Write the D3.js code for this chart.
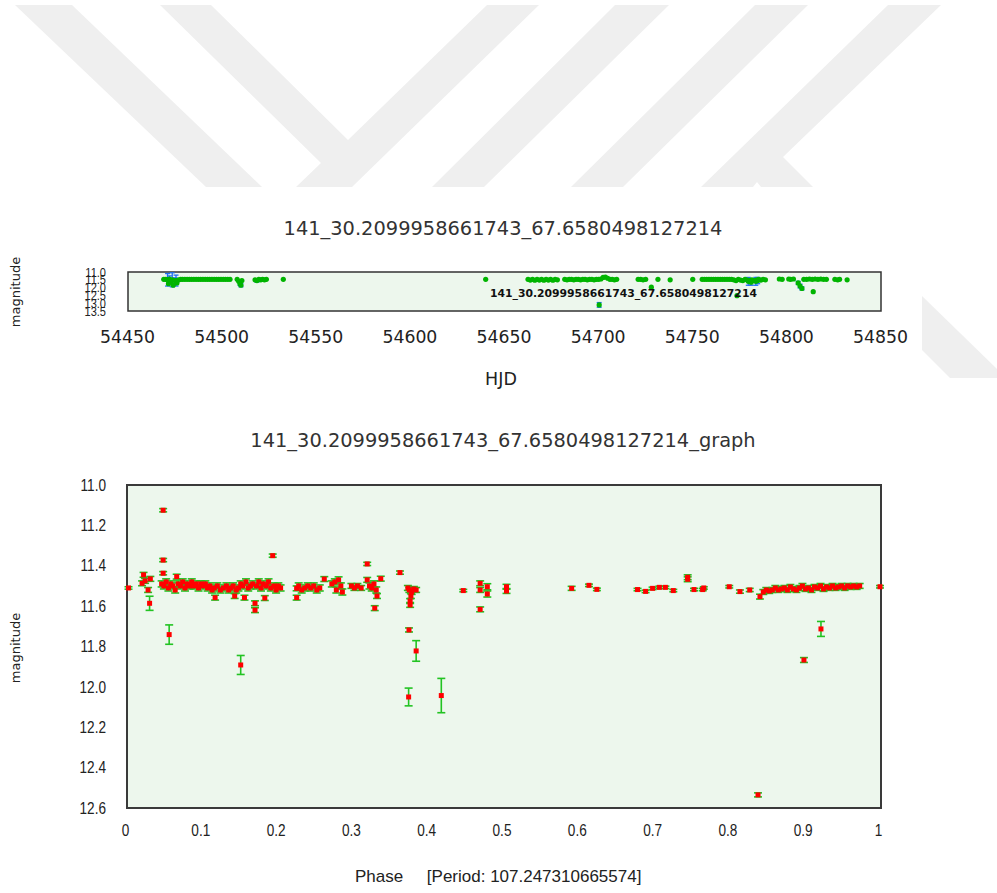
<!DOCTYPE html>
<html>
<head>
<meta charset="utf-8">
<script src="https://cdn.jsdelivr.net/npm/d3@7/dist/d3.min.js"></script>
<style>
  html, body { margin: 0; padding: 0; background: #fff; }
  svg { display: block; }
  .narrow { font-family: "Liberation Sans", Arial, sans-serif; }
  .dv { font-family: "DejaVu Sans", sans-serif; }
  .lib { font-family: "Liberation Sans", Arial, sans-serif; }
</style>
</head>
<body>
<svg id="chart" width="997" height="893"></svg>
<script>
// ---- light curve vs. time (HJD) ----
const hjd = [
  54469, 54470, 54471, 54471.5, 54472, 54473, 54473.5, 54474, 54475, 54475.5, 54476, 54477, 54478,
  54479, 54480.2, 54481.4, 54482.6, 54483.8, 54485, 54486.2, 54487.4, 54488.6, 54489.8, 54491,
  54492.2, 54493.4, 54494.6, 54495.8, 54497, 54498.2, 54499.4, 54500.6, 54501.8, 54503, 54504.2,
  54508, 54508.8, 54509.5, 54510, 54510.5,
  54517.5, 54518.5, 54519.5, 54520.5, 54521.5, 54522.5, 54523.5, 54532.5,
  54640,
  54662.5, 54663.7, 54664.9, 54666.1, 54667.3, 54668.5, 54669.7, 54670.9, 54672.1, 54673.3,
  54674.5, 54675.7, 54676.9, 54678.1,
  54682, 54683.2, 54684.4, 54685.6, 54686.8, 54688, 54689.2, 54690.4, 54691.6, 54692.8, 54694,
  54695.2, 54696.4, 54697.6, 54698.8, 54700, 54701.2, 54702.4, 54703.6, 54704.8, 54706, 54707.2,
  54708.4, 54709.6,
  54700.3,
  54721, 54722.3, 54723.6, 54725, 54728, 54731.5, 54738, 54750,
  54755, 54756.2, 54757.4, 54758.6, 54759.8, 54761, 54762.2, 54763.4, 54764.6, 54765.8, 54767,
  54768.2, 54769.4, 54770.6, 54771.8, 54773, 54774.2, 54775.4, 54776.6, 54777.8, 54779, 54780.2,
  54781.4, 54782.6, 54783.8, 54785, 54786.2, 54787.4, 54788.6,
  54779.5, 54781, 54783.5, 54784.5, 54773.5,
  54796, 54797.5, 54801, 54802, 54803.5, 54806, 54807, 54808, 54809, 54810.5, 54812, 54813.5,
  54815, 54816.5, 54818, 54819.5, 54821, 54814, 54825.5, 54827, 54828, 54832
];
const hjdMag = [
  11.47, 11.47, 11.50, 11.75, 11.45, 11.60, 11.50, 11.85, 11.55, 11.55, 11.70, 11.50, 11.47,
  11.47, 11.47, 11.47, 11.47, 11.47, 11.47, 11.47, 11.47, 11.47, 11.47, 11.47,
  11.47, 11.47, 11.47, 11.47, 11.47, 11.47, 11.47, 11.47, 11.47, 11.47, 11.47,
  11.47, 11.60, 11.75, 11.85, 11.55,
  11.50, 11.55, 11.47, 11.50, 11.47, 11.50, 11.47, 11.47,
  11.47,
  11.47, 11.52, 11.47, 11.53, 11.47, 11.52, 11.47, 11.53, 11.47, 11.52,
  11.47, 11.53, 11.47, 11.50,
  11.47, 11.50, 11.47, 11.47, 11.50, 11.47, 11.47, 11.50, 11.47, 11.47, 11.50,
  11.47, 11.47, 11.50, 11.47, 11.47, 11.45, 11.35, 11.32, 11.40, 11.47, 11.47,
  11.50, 11.47,
  13.11,
  11.47, 11.47, 11.50, 11.47, 11.97, 11.47, 11.50, 11.47,
  11.47, 11.47, 11.47, 11.47, 11.47, 11.47, 11.47, 11.47, 11.47, 11.47, 11.47,
  11.47, 11.47, 11.47, 11.50, 11.55, 11.47, 11.52, 11.55, 11.47, 11.52, 11.55,
  11.50, 11.55, 11.52, 11.47, 11.52, 11.47, 11.50,
  11.60, 11.65, 11.60, 11.55, 12.52,
  11.45, 11.47, 11.45, 11.47, 11.45, 11.70, 11.90, 12.05, 11.47, 11.47, 11.45, 11.47,
  11.45, 11.47, 11.45, 11.47, 11.47, 12.26, 11.47, 11.50, 11.47, 11.50
];
const hjdErr = [
  0, 0, 0.40, 0, 0.20, 0.15, 0.45, 0, 0.18, 0.35, 0, 0, 0,
  0, 0, 0, 0, 0, 0, 0, 0, 0, 0, 0,
  0, 0, 0, 0, 0, 0, 0, 0, 0, 0, 0,
  0, 0, 0.10, 0.10, 0,
  0, 0.10, 0, 0, 0, 0, 0, 0,
  0,
  0, 0, 0, 0, 0, 0, 0, 0, 0, 0,
  0, 0, 0, 0,
  0, 0, 0, 0, 0, 0, 0, 0, 0, 0, 0,
  0, 0, 0, 0, 0, 0, 0, 0, 0, 0, 0,
  0, 0,
  0.15,
  0, 0, 0, 0, 0, 0, 0, 0,
  0, 0, 0, 0, 0, 0, 0, 0, 0, 0, 0,
  0, 0, 0, 0, 0, 0, 0, 0, 0, 0, 0,
  0, 0, 0, 0, 0, 0, 0,
  0.25, 0.20, 0.25, 0.20, 0,
  0, 0, 0, 0, 0, 0.10, 0.12, 0.10, 0, 0, 0, 0,
  0, 0, 0, 0, 0, 0, 0, 0, 0, 0
];
const hjdTicks = [54450, 54500, 54550, 54600, 54650, 54700, 54750, 54800, 54850];
const hjdMagTicks = [11.0, 11.5, 12.0, 12.5, 13.0, 13.5];

// ---- folded light curve (phase) ----
const phase = [
  0.002, 0.020, 0.022, 0.024, 0.028, 0.031, 0.030, 0.048, 0.048, 0.048, 0.056, 0.066,
  0.046, 0.049, 0.052, 0.055, 0.058, 0.061, 0.064, 0.068, 0.071, 0.074, 0.077, 0.080,
  0.083, 0.086, 0.089, 0.092, 0.095, 0.098, 0.101, 0.104, 0.107, 0.110, 0.113, 0.117,
  0.116, 0.120, 0.124, 0.128, 0.132, 0.135, 0.138, 0.141, 0.143, 0.145, 0.148, 0.151,
  0.154, 0.156, 0.158, 0.161, 0.164, 0.167, 0.170, 0.170, 0.172, 0.175, 0.178, 0.181,
  0.183, 0.185, 0.188, 0.191, 0.1935, 0.195, 0.198, 0.201, 0.204, 0.151,
  0.2253, 0.2253, 0.228, 0.232, 0.236, 0.240, 0.244, 0.248, 0.252, 0.256, 0.262,
  0.272, 0.276, 0.278, 0.281, 0.284, 0.286, 0.298, 0.302, 0.306, 0.311,
  0.319, 0.319, 0.322, 0.325, 0.328, 0.329, 0.331, 0.332, 0.337, 0.3625,
  0.373, 0.375, 0.378, 0.381, 0.384, 0.377, 0.376, 0.376, 0.3745, 0.384, 0.374, 0.4174,
  0.4466, 0.469, 0.469, 0.469, 0.4785, 0.4785, 0.504, 0.504, 0.5905, 0.6135, 0.624,
  0.678, 0.6887, 0.698, 0.707, 0.715, 0.7255, 0.7446, 0.7446, 0.753, 0.7645, 0.766,
  0.7998, 0.814, 0.827, 0.8406, 0.838,
  0.845, 0.849, 0.853, 0.857, 0.861, 0.865, 0.869, 0.873, 0.877, 0.881, 0.885, 0.889,
  0.893, 0.897, 0.901, 0.905, 0.909, 0.913, 0.917, 0.921, 0.925, 0.929, 0.933, 0.937,
  0.941, 0.945, 0.949, 0.953, 0.957, 0.961, 0.965, 0.969, 0.973, 1.0,
  0.899, 0.9216
];
const phaseMag = [
  11.51, 11.487, 11.445, 11.475, 11.52, 11.465, 11.586, 11.125, 11.372, 11.437, 11.741, 11.454,
  11.49, 11.50, 11.48, 11.51, 11.49, 11.50, 11.52, 11.49, 11.50, 11.48, 11.51, 11.49,
  11.50, 11.48, 11.50, 11.49, 11.51, 11.49, 11.50, 11.49, 11.51, 11.50, 11.52, 11.558,
  11.51, 11.50, 11.52, 11.51, 11.50, 11.52, 11.51, 11.50, 11.55, 11.52, 11.51, 11.49,
  11.50, 11.558, 11.48, 11.51, 11.50, 11.49, 11.586, 11.62, 11.50, 11.48, 11.51, 11.49,
  11.56, 11.50, 11.48, 11.51, 11.35, 11.50, 11.52, 11.50, 11.51, 11.8915,
  11.512, 11.558, 11.50, 11.52, 11.51, 11.50, 11.51, 11.50, 11.52, 11.51, 11.466,
  11.49, 11.48, 11.52, 11.47, 11.50, 11.53, 11.50, 11.51, 11.50, 11.51,
  11.391, 11.47, 11.50, 11.51, 11.49, 11.61, 11.52, 11.55, 11.464, 11.434,
  11.51, 11.52, 11.53, 11.515, 11.52, 11.55, 11.594, 11.575, 11.718, 11.822, 12.05, 12.043,
  11.523, 11.487, 11.52, 11.616, 11.504, 11.54, 11.504, 11.525, 11.512, 11.497, 11.517,
  11.518, 11.527, 11.512, 11.507, 11.507, 11.523, 11.457, 11.467, 11.518, 11.518, 11.51,
  11.504, 11.528, 11.52, 11.553, 12.535,
  11.53, 11.52, 11.525, 11.52, 11.51, 11.52, 11.515, 11.51, 11.52, 11.505, 11.515, 11.52,
  11.51, 11.50, 11.515, 11.51, 11.52, 11.505, 11.51, 11.50, 11.515, 11.505, 11.51, 11.50,
  11.51, 11.505, 11.50, 11.51, 11.50, 11.505, 11.50, 11.505, 11.50, 11.504,
  11.867, 11.713
];
const phaseErr = [
  0.006, 0.012, 0.012, 0.012, 0.012, 0.012, 0.035, 0.008, 0.008, 0.008, 0.048, 0.012,
  0.015, 0.015, 0.015, 0.015, 0.015, 0.015, 0.015, 0.015, 0.015, 0.015, 0.015, 0.015,
  0.015, 0.015, 0.015, 0.015, 0.015, 0.015, 0.015, 0.015, 0.015, 0.015, 0.015, 0.012,
  0.015, 0.015, 0.015, 0.015, 0.015, 0.015, 0.015, 0.015, 0.012, 0.015, 0.015, 0.015,
  0.015, 0.012, 0.015, 0.015, 0.015, 0.015, 0.012, 0.012, 0.015, 0.015, 0.015, 0.015,
  0.012, 0.015, 0.015, 0.015, 0.008, 0.015, 0.015, 0.015, 0.015, 0.047,
  0.012, 0.012, 0.015, 0.015, 0.015, 0.015, 0.015, 0.015, 0.015, 0.015, 0.012,
  0.015, 0.015, 0.015, 0.015, 0.015, 0.015, 0.012, 0.012, 0.012, 0.012,
  0.008, 0.012, 0.015, 0.015, 0.015, 0.012, 0.015, 0.012, 0.012, 0.008,
  0.012, 0.012, 0.012, 0.012, 0.012, 0.012, 0.012, 0.012, 0.01, 0.051, 0.044, 0.085,
  0.006, 0.012, 0.012, 0.012, 0.015, 0.015, 0.012, 0.012, 0.01, 0.006, 0.006,
  0.006, 0.006, 0.006, 0.006, 0.006, 0.006, 0.012, 0.012, 0.006, 0.006, 0.006,
  0.006, 0.008, 0.008, 0.012, 0.01,
  0.012, 0.012, 0.012, 0.012, 0.012, 0.012, 0.012, 0.012, 0.012, 0.012, 0.012, 0.012,
  0.012, 0.012, 0.012, 0.012, 0.012, 0.012, 0.012, 0.012, 0.012, 0.012, 0.012, 0.012,
  0.012, 0.012, 0.012, 0.012, 0.012, 0.012, 0.012, 0.012, 0.012, 0.006,
  0.012, 0.037
];
const phaseTicks = [0, 0.1, 0.2, 0.3, 0.4, 0.5, 0.6, 0.7, 0.8, 0.9, 1];
const phaseMagTicks = [11.0, 11.2, 11.4, 11.6, 11.8, 12.0, 12.2, 12.4, 12.6];

const starName = "141_30.2099958661743_67.6580498127214";
const period = "107.247310665574";

const svg = d3.select("#chart");

// squeeze a text horizontally (condensed look) while keeping its anchor
function condense(sel, k) {
  sel.each(function () {
    const w = this.getComputedTextLength();
    d3.select(this).attr("textLength", w * k).attr("lengthAdjust", "spacingAndGlyphs");
  });
}

// ---- background mark (grey diagonal strokes) ----
const wm = svg.append("g").attr("fill", "#efefef");
const wmShapes = [
  [[15, 5], [72, 5], [262, 187], [206, 187]],
  [[160, 5], [211, 5], [348, 140], [487, 5], [539, 5], [352, 187], [296, 187], [321, 163]],
  [[615, 5], [669, 5], [484, 187], [432, 187]],
  [[755, 5], [808, 5], [623, 187], [571, 187]],
  [[888, 5], [941, 5], [783, 157], [813, 187], [761, 187], [757, 182], [753, 187], [701, 187]],
  [[922, 296], [997, 369], [997, 378], [950, 378], [922, 350]]
];
wm.selectAll("polygon").data(wmShapes).join("polygon")
  .attr("points", d => d.map(p => p.join(",")).join(" "));

// ================= upper panel =================
const boxT = { x0: 128, x1: 881, y0: 272, y1: 311 };
const xT = d3.scaleLinear().domain([54450, 54850]).range([boxT.x0, boxT.x1]);
const yT = d3.scaleLinear().domain([11.0, 13.5]).range([boxT.y0, boxT.y1]);

svg.append("text").attr("class", "dv")
  .attr("x", 503).attr("y", 235).attr("text-anchor", "middle")
  .attr("font-size", 19.4).attr("fill", "#333").text(starName);

svg.append("rect")
  .attr("x", boxT.x0).attr("y", boxT.y0)
  .attr("width", boxT.x1 - boxT.x0).attr("height", boxT.y1 - boxT.y0)
  .attr("fill", "#edf7ed").attr("stroke", "#333").attr("stroke-width", 1.5);

const topData = hjd.map((t, i) => ({ t, m: hjdMag[i], e: hjdErr[i] }));
const gTop = svg.append("g");
const topBars = gTop.append("g").attr("stroke", "#2070f0").attr("stroke-width", 1.3);
topData.filter(d => d.e > 0).forEach(d => {
  const x = xT(d.t);
  topBars.append("line").attr("x1", x).attr("x2", x)
    .attr("y1", yT(d.m - d.e)).attr("y2", yT(d.m + d.e));
  topBars.append("line").attr("x1", x - 2.5).attr("x2", x + 2.5)
    .attr("y1", yT(d.m - d.e)).attr("y2", yT(d.m - d.e));
  topBars.append("line").attr("x1", x - 2.5).attr("x2", x + 2.5)
    .attr("y1", yT(d.m + d.e)).attr("y2", yT(d.m + d.e));
});
gTop.append("g").selectAll("circle").data(topData).join("circle")
  .attr("cx", d => xT(d.t)).attr("cy", d => yT(d.m)).attr("r", 2.6)
  .attr("fill", "#00b400");

svg.append("text").attr("class", "dv")
  .attr("x", 490).attr("y", 297)
  .attr("font-size", 10.8).attr("font-weight", "bold").attr("fill", "#111")
  .text(starName);

// axes of upper panel (labels only, no tick lines)
const axTx = svg.append("g").attr("transform", `translate(-1,${boxT.y1})`)
  .call(d3.axisBottom(xT).tickValues(hjdTicks).tickSize(0).tickPadding(20).tickFormat(d3.format("d")));
axTx.select(".domain").remove();
axTx.selectAll("text").attr("class", "dv").attr("font-size", 17.3).attr("fill", "#222");

const axTy = svg.append("g").attr("transform", `translate(106,0)`)
  .call(d3.axisLeft(yT).tickValues(hjdMagTicks).tickSize(0).tickPadding(0).tickFormat(d3.format(".1f")));
axTy.select(".domain").remove();
axTy.selectAll("text").attr("class", "narrow").attr("font-size", 13).attr("fill", "#222")
  .call(condense, 0.85);

svg.append("text").attr("class", "dv")
  .attr("x", 501).attr("y", 385).attr("text-anchor", "middle")
  .attr("font-size", 17.5).attr("fill", "#222").text("HJD");

svg.append("text").attr("class", "dv")
  .attr("transform", "translate(20,292) rotate(-90)").attr("text-anchor", "middle")
  .attr("font-size", 13).attr("fill", "#222").text("magnitude");

// ================= lower panel =================
const boxB = { x0: 127, x1: 881, y0: 485, y1: 808 };
const xB = d3.scaleLinear().domain([0, 1]).range([127, 880]);
const yB = d3.scaleLinear().domain([11.0, 12.6]).range([boxB.y0, boxB.y1]);

svg.append("text").attr("class", "dv")
  .attr("x", 503).attr("y", 447).attr("text-anchor", "middle")
  .attr("font-size", 19.4).attr("fill", "#333").text(starName + "_graph");

svg.append("rect")
  .attr("x", boxB.x0).attr("y", boxB.y0)
  .attr("width", boxB.x1 - boxB.x0).attr("height", boxB.y1 - boxB.y0)
  .attr("fill", "#edf7ed").attr("stroke", "#3a3a3a").attr("stroke-width", 2);

const botData = phase.map((p, i) => ({ p, m: phaseMag[i], e: phaseErr[i] }));
const gBars = svg.append("g").attr("stroke", "#22c322").attr("stroke-width", 1.6);
botData.forEach(d => {
  const x = xB(d.p), ya = yB(d.m - d.e), yb = yB(d.m + d.e);
  gBars.append("line").attr("x1", x).attr("x2", x).attr("y1", ya).attr("y2", yb);
  gBars.append("line").attr("x1", x - 4).attr("x2", x + 4).attr("y1", ya).attr("y2", ya);
  gBars.append("line").attr("x1", x - 4).attr("x2", x + 4).attr("y1", yb).attr("y2", yb);
});
svg.append("g").selectAll("rect").data(botData).join("rect")
  .attr("x", d => xB(d.p) - 2.5).attr("y", d => yB(d.m) - 2.5)
  .attr("width", 5).attr("height", 5).attr("fill", "#ff0000");

const axBx = svg.append("g").attr("transform", `translate(-2,${boxB.y1})`)
  .call(d3.axisBottom(xB).tickValues(phaseTicks).tickSize(0).tickPadding(17).tickFormat(d => String(d)));
axBx.select(".domain").remove();
axBx.selectAll("text").attr("class", "narrow").attr("font-size", 16).attr("fill", "#222")
  .call(condense, 0.85);

const axBy = svg.append("g").attr("transform", `translate(106,0)`)
  .call(d3.axisLeft(yB).tickValues(phaseMagTicks).tickSize(0).tickPadding(0).tickFormat(d3.format(".1f")));
axBy.select(".domain").remove();
axBy.selectAll("text").attr("class", "narrow").attr("font-size", 16).attr("fill", "#222")
  .call(condense, 0.85);

svg.append("text").attr("class", "lib")
  .attr("x", 355).attr("y", 882).attr("font-size", 17).attr("fill", "#222")
  .style("white-space", "pre")
  .text("Phase     [Period: " + period + "]");

svg.append("text").attr("class", "dv")
  .attr("transform", "translate(20,648) rotate(-90)").attr("text-anchor", "middle")
  .attr("font-size", 13).attr("fill", "#222").text("magnitude");
</script>
</body>
</html>
